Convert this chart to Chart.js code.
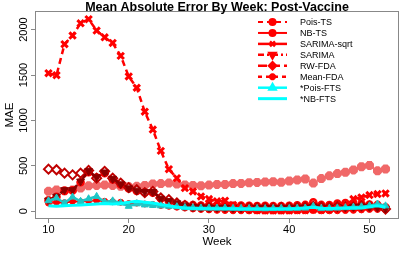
<!DOCTYPE html>
<html>
<head>
<meta charset="utf-8">
<script src="https://cdn.jsdelivr.net/npm/chart.js@4.4.0/dist/chart.umd.min.js"></script>
<style>
  html, body { margin: 0; padding: 0; background: #fff; }
  canvas { display: block; }
</style>
</head>
<body>
<canvas id="chartCanvas" width="407" height="255"></canvas>
<script>
// weeks on the x axis
const weeks = [10, 11, 12, 13, 14, 15, 16, 17, 18, 19, 20, 21, 22, 23, 24, 25, 26, 27, 28, 29, 30,
    31, 32, 33, 34, 35, 36, 37, 38, 39, 40, 41, 42, 43, 44, 45, 46, 47, 48, 49, 50, 51, 52];

// MAE values, one per week
const poisTS = [120, 160, 225, 230, 320, 430, 370, 420, 350, 295, 250, 225, 210, 205, 140, 110, 85, 72, 68, 64, 65,
    60, 65, 60, 62, 60, 58, 60, 58, 58, 60, 65, 70, 100, 70, 68, 85, 90, 75, 80, 75, 70, 45];
const nbTS = [90, 100, 95, 110, 105, 115, 120, 110, 105, 100, 85, 90, 80, 75, 65, 55, 45, 35, 25, 20, 15,
    10, 8, 5, 5, 4, 4, 3, 3, 3, 4, 5, 5, 8, 5, 5, 6, 8, 10, 15, 20, 20, 15];
const sarimaSqrt = [1520, 1498, 1840, 1935, 2070, 2115, 1990, 1915, 1853, 1711, 1484, 1360, 1096, 900, 665, 464, 365, 255, 219, 164, 135,
    110, 116, 70, 40, 20, 10, 8, 8, 8, 8, 10, 12, 20, 15, 20, 30, 60, 135, 153, 179, 190, 197];
const sarima = [120, 165, 235, 235, 330, 445, 375, 430, 360, 300, 255, 230, 215, 215, 140, 115, 90, 65, 50, 45, 42,
    40, 42, 40, 40, 38, 38, 38, 38, 38, 40, 40, 42, 55, 42, 40, 45, 48, 50, 55, 50, 45, 30];
const rwFDA = [464, 457, 420, 401, 420, 450, 365, 440, 365, 310, 260, 237, 205, 219, 146, 128, 91, 65, 55, 48, 45,
    45, 45, 42, 42, 42, 40, 40, 40, 42, 42, 45, 48, 55, 48, 45, 50, 52, 55, 58, 55, 50, 25];
const meanFDA = [220, 235, 225, 235, 255, 280, 285, 290, 285, 275, 270, 275, 285, 300, 305, 310, 300, 290, 285, 281, 288,
    296, 296, 305, 307, 314, 318, 322, 325, 320, 333, 345, 355, 310, 360, 390, 415, 430, 455, 490, 505, 445, 465];
const poisFTS = [116, 146, 91, 157, 110, 138, 164, 102, 115, 91, 55, 82, 70, 65, 60, 55, 50, 40, 38, 35, 35,
    35, 35, 33, 32, 30, 30, 28, 30, 32, 30, 32, 35, 55, 30, 32, 35, 40, 45, 50, 60, 80, 60];
const nbFTS = [60, 55, 60, 65, 70, 75, 80, 85, 80, 85, 100, 110, 100, 90, 75, 60, 45, 35, 30, 30, 28,
    28, 28, 27, 26, 25, 25, 25, 25, 26, 27, 30, 35, 45, 30, 30, 32, 35, 40, 35, 50, 60, 45];

const legendOrder = ['Pois-TS', 'NB-TS', 'SARIMA-sqrt', 'SARIMA', 'RW-FDA', 'Mean-FDA', '*Pois-FTS', '*NB-FTS'];
const yTicks = [0, 500, 1000, 1500, 2000];
const xTicks = [10, 20, 30, 40, 50];

const FONT = '"Liberation Sans", Arial, sans-serif';

// box round the plot, title and the R style legend
const framePlugin = {
    id: 'frame',
    afterDraw(chart) {
        const ctx = chart.ctx;
        const a = chart.chartArea;
        ctx.save();
        ctx.strokeStyle = '#888';
        ctx.lineWidth = 1;
        ctx.strokeRect(a.left + 0.5, a.top + 0.5, a.right - a.left - 1, a.bottom - a.top - 1);

        ctx.fillStyle = '#000';
        ctx.font = 'bold 12.5px ' + FONT;
        ctx.textAlign = 'center';
        ctx.textBaseline = 'alphabetic';
        ctx.fillText('Mean Absolute Error By Week: Post-Vaccine', (a.left + a.right) / 2, 10.5);

        legendOrder.forEach((name, i) => {
            const ds = chart.data.datasets.find(d => d.label === name);
            const y = 22 + i * 10.95;
            const col = ds.legendColor || ds.borderColor;
            ctx.strokeStyle = col;
            ctx.fillStyle = col;
            ctx.lineWidth = ds.borderWidth;
            ctx.setLineDash(ds.legendDash || []);
            ctx.beginPath();
            ctx.moveTo(258, y);
            ctx.lineTo(287, y);
            ctx.stroke();
            ctx.setLineDash([]);
            if (ds.pointRadius > 0) {
                Chart.helpers.drawPoint(ctx, {
                    pointStyle: ds.pointStyle,
                    radius: Math.min(ds.pointRadius, 3.5),
                    borderWidth: 2,
                    rotation: ds.pointRotation || 0
                }, 272.5, y);
            }
            ctx.fillStyle = '#000';
            ctx.font = '9px ' + FONT;
            ctx.textAlign = 'left';
            ctx.textBaseline = 'middle';
            ctx.fillText(name, 300, y + 0.5);
        });
        ctx.restore();
    }
};

const ctx = document.getElementById('chartCanvas');

// datasets listed top layer first
new Chart(ctx, {
    type: 'line',
    data: {
        labels: weeks,
        datasets: [
            {
                label: '*NB-FTS', data: nbFTS,
                borderColor: '#00FFFF', borderWidth: 3, pointRadius: 0
            },
            {
                label: '*Pois-FTS', data: poisFTS,
                borderColor: '#1FC6C6', borderWidth: 2.5,
                pointStyle: 'triangle', pointRadius: 4, pointBorderWidth: 1,
                pointBackgroundColor: '#1FC6C6', pointBorderColor: '#1FC6C6',
                legendColor: '#00FFFF'
            },
            {
                label: 'SARIMA-sqrt', data: sarimaSqrt,
                borderColor: '#FF0000', borderWidth: 2.5, borderDash: [6, 4],
                pointStyle: 'crossRot', pointRadius: 4.5, pointBorderWidth: 3,
                pointBorderColor: '#FF0000'
            },
            {
                label: 'SARIMA', data: sarima,
                borderColor: '#8B0000', borderWidth: 2.5, borderDash: [6, 3, 2, 3], legendDash: [6, 3, 2, 3],
                pointStyle: 'triangle', pointRotation: 180, pointRadius: 4.5, pointBorderWidth: 1,
                pointBackgroundColor: '#8B0000', pointBorderColor: '#8B0000',
                legendColor: '#FF0000'
            },
            {
                label: 'RW-FDA', data: rwFDA,
                borderColor: '#C00000', borderWidth: 2.5, borderDash: [8, 4], legendDash: [9, 4],
                pointStyle: 'rectRot', pointRadius: 4.5, pointBorderWidth: 2,
                pointBackgroundColor: '#FFFFFF', pointBorderColor: '#C00000',
                legendColor: '#FF0000'
            },
            {
                label: 'Pois-TS', data: poisTS,
                borderColor: '#FF0000', borderWidth: 2, borderDash: [2, 3], legendDash: [5, 4],
                pointStyle: 'circle', pointRadius: 3, pointBorderWidth: 2.6,
                pointBackgroundColor: '#FFFFFF', pointBorderColor: '#FF0000'
            },
            {
                label: 'NB-TS', data: nbTS,
                borderColor: '#FF0000', borderWidth: 2,
                pointStyle: 'circle', pointRadius: 3, pointBorderWidth: 1,
                pointBackgroundColor: '#FF0000', pointBorderColor: '#FF0000'
            },
            {
                label: 'Mean-FDA', data: meanFDA,
                borderColor: '#F06868', borderWidth: 2.5, borderDash: [4, 4], legendDash: [4, 4],
                pointStyle: 'star', pointRadius: 4.5, pointBorderWidth: 3.5,
                pointBorderColor: '#F06868', pointBackgroundColor: '#F06868',
                legendColor: '#FF0000'
            }
        ]
    },
    options: {
        responsive: false,
        animation: false,
        layout: { padding: { top: 11, right: 8, left: 0, bottom: 0 } },
        plugins: {
            legend: { display: false },
            title: { display: false },
            tooltip: { enabled: false }
        },
        scales: {
            x: {
                type: 'linear',
                min: 8.32,
                max: 53.68,
                afterBuildTicks: (scale) => { scale.ticks = xTicks.map(v => ({ value: v })); },
                afterFit: (scale) => { scale.height = 36; },
                grid: { display: true, drawOnChartArea: false, drawTicks: true, tickLength: 4, color: '#888' },
                border: { display: false },
                ticks: { color: '#000', font: { family: FONT, size: 11 }, padding: 0, maxRotation: 0,
                    callback: (v) => String(v) },
                title: { display: true, text: 'Week', color: '#000', font: { family: FONT, size: 11.5 }, padding: { top: 0, bottom: 6 } }
            },
            y: {
                type: 'linear',
                min: -85,
                max: 2205,
                afterBuildTicks: (scale) => { scale.ticks = yTicks.map(v => ({ value: v })); },
                afterFit: (scale) => { scale.width = 35; },
                grid: { display: true, drawOnChartArea: false, drawTicks: true, tickLength: 4, color: '#888' },
                border: { display: false },
                ticks: { color: '#000', font: { family: FONT, size: 11 }, padding: -5, minRotation: 90, maxRotation: 90, crossAlign: 'center',
                    callback: (v) => String(v) },
                title: { display: true, text: 'MAE', color: '#000', font: { family: FONT, size: 11.5 }, padding: { top: 3, bottom: 0 } }
            }
        }
    },
    plugins: [framePlugin]
});
</script>
</body>
</html>
